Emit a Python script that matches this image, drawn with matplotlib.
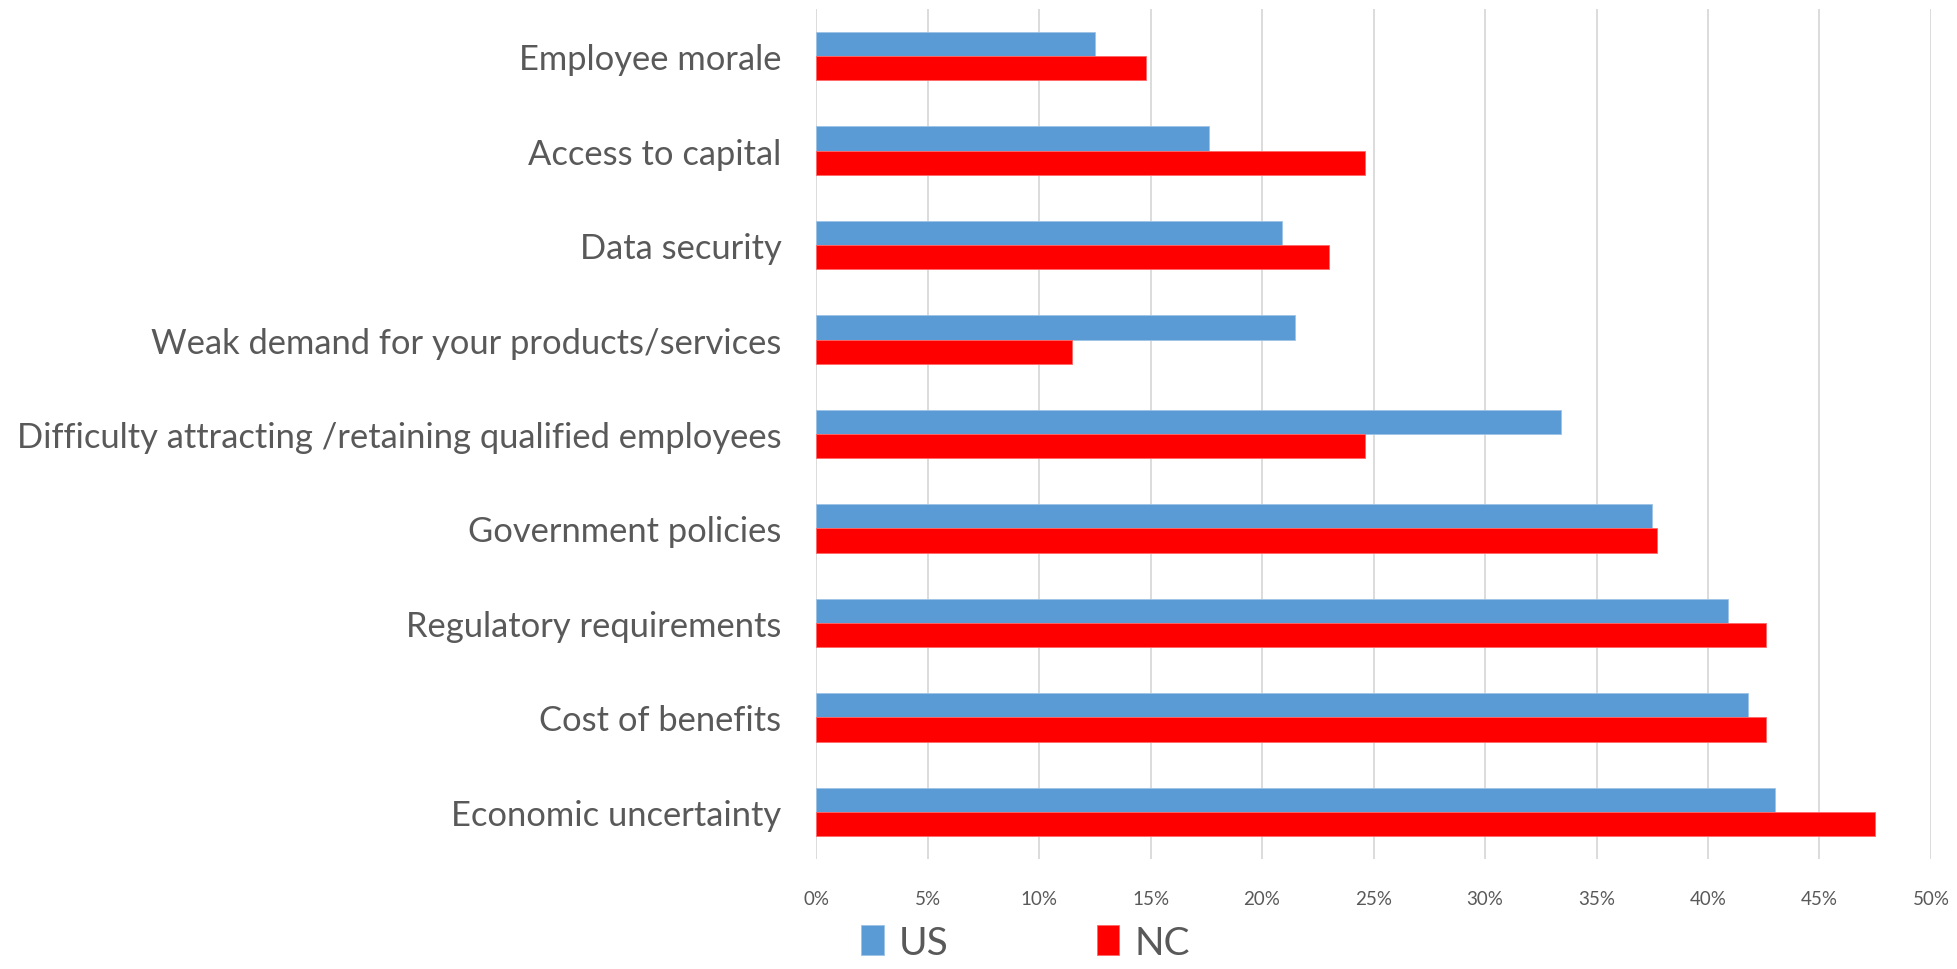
import numpy as np
import matplotlib.pyplot as plt
from matplotlib.ticker import PercentFormatter

plt.rcParams['font.family'] = ['Lato', 'DejaVu Sans']

categories = [
    "Employee morale",
    "Access to capital",
    "Data security",
    "Weak demand for your products/services",
    "Difficulty attracting /retaining qualified employees",
    "Government policies",
    "Regulatory requirements",
    "Cost of benefits",
    "Economic uncertainty",
]
us_values = [12.5, 17.6, 20.9, 21.5, 33.4, 37.5, 40.9, 41.8, 43.0]
nc_values = [14.8, 24.6, 23.0, 11.5, 24.6, 37.7, 42.6, 42.6, 47.5]

text_color = "#595959"
us_color = "#5B9BD5"
nc_color = "#FF0000"

fig = plt.figure(figsize=(19.57, 9.70), dpi=100)
ax = fig.add_axes([0.417, 0.1134, 0.5697, 0.8763])

y = np.arange(len(categories))
h = 0.257
ax.barh(y - h / 2, us_values, height=h, color=us_color, label="US", zorder=3,
        edgecolor="#9DC3E6", linewidth=0.6)
ax.barh(y + h / 2, nc_values, height=h, color=nc_color, label="NC", zorder=3,
        edgecolor="#FF6666", linewidth=0.6)

ax.set_ylim(len(categories) - 0.5, -0.5)
ax.set_yticks(y)
ax.set_yticklabels(categories, fontsize=24.8, color=text_color)
ax.set_xlim(0, 50)
ax.set_xticks(np.arange(0, 51, 5))
ax.xaxis.set_major_formatter(PercentFormatter(decimals=0))
ax.tick_params(axis="x", labelsize=13.5, colors=text_color, length=0, pad=22)
ax.tick_params(axis="y", length=0, pad=25)
ax.grid(axis="x", color="#D9D9D9", linewidth=1.3, zorder=0)
for s in ax.spines.values():
    s.set_visible(False)

fig.legend(loc="center left", bbox_to_anchor=(0.44, 0.027), ncol=2, frameon=False,
           fontsize=28, labelcolor=text_color, handlelength=0.58, handleheight=0.8,
           handletextpad=0.4, columnspacing=3.8, borderpad=0, borderaxespad=0)

fig.savefig("out.png", dpi=100, facecolor="white")
